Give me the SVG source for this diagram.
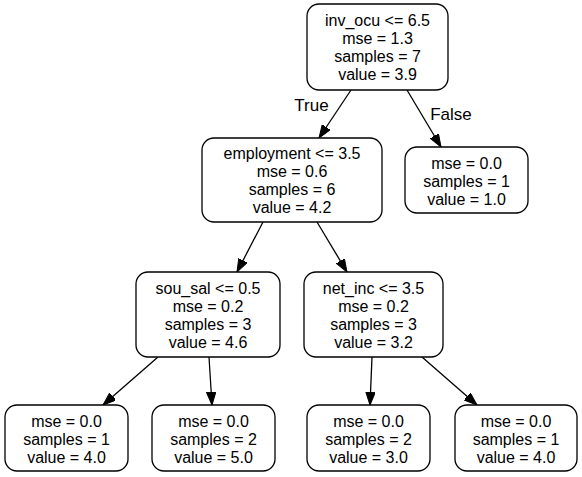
<svg xmlns="http://www.w3.org/2000/svg" width="582" height="477" viewBox="0 0 582 477">
<style>
.box{fill:#fff;stroke:#000;stroke-width:1.3}
text{font-family:"Liberation Sans",Arial,Helvetica,sans-serif;font-size:16px;fill:#000;text-anchor:middle}
.edge{stroke:#000;stroke-width:1.3;fill:none}
</style>
<defs>
<marker id="arr" markerUnits="userSpaceOnUse" markerWidth="14" markerHeight="10" refX="13" refY="4.75" orient="auto" viewBox="0 0 14 10">
<path d="M0,0 L13,4.75 L0,9.5 z" fill="#000" stroke="#000" stroke-width="1"/>
</marker>
</defs>
<rect width="582" height="477" fill="#fff"/>
<g id="connectors">
<line class="edge" x1="351" y1="90" x2="319" y2="138" marker-end="url(#arr)"/>
<line class="edge" x1="407" y1="90" x2="441" y2="147" marker-end="url(#arr)"/>
<line class="edge" x1="263" y1="222" x2="237" y2="272" marker-end="url(#arr)"/>
<line class="edge" x1="317" y1="222" x2="347" y2="272" marker-end="url(#arr)"/>
<line class="edge" x1="158" y1="357" x2="103" y2="405" marker-end="url(#arr)"/>
<line class="edge" x1="209" y1="357" x2="212" y2="405" marker-end="url(#arr)"/>
<line class="edge" x1="372" y1="357" x2="370" y2="405" marker-end="url(#arr)"/>
<line class="edge" x1="422" y1="357" x2="477" y2="405" marker-end="url(#arr)"/>
<text x="311.5" y="111" style="font-size:17px">True</text>
<text x="451" y="120" style="font-size:17px">False</text>
</g>
<g id="node0">
<rect class="box" x="307" y="4" width="141" height="86" rx="12"/>
<text x="377.5" y="25.5">inv_ocu &lt;= 6.5</text>
<text x="377.5" y="43.5">mse = 1.3</text>
<text x="377.5" y="61.5">samples = 7</text>
<text x="377.5" y="79.5">value = 3.9</text>
</g>
<g id="node1">
<rect class="box" x="202" y="138" width="180" height="84" rx="12"/>
<text x="292" y="158.5">employment &lt;= 3.5</text>
<text x="292" y="176.5">mse = 0.6</text>
<text x="292" y="194.5">samples = 6</text>
<text x="292" y="212.5">value = 4.2</text>
</g>
<g id="node2">
<rect class="box" x="405" y="147" width="123" height="66" rx="12"/>
<text x="466.5" y="168.5">mse = 0.0</text>
<text x="466.5" y="186.5">samples = 1</text>
<text x="466.5" y="204.5">value = 1.0</text>
</g>
<g id="node3">
<rect class="box" x="136" y="272" width="144" height="85" rx="12"/>
<text x="208" y="293.5">sou_sal &lt;= 0.5</text>
<text x="208" y="311.5">mse = 0.2</text>
<text x="208" y="329.5">samples = 3</text>
<text x="208" y="347.5">value = 4.6</text>
</g>
<g id="node4">
<rect class="box" x="304" y="272" width="139" height="85" rx="12"/>
<text x="373.5" y="293.5">net_inc &lt;= 3.5</text>
<text x="373.5" y="311.5">mse = 0.2</text>
<text x="373.5" y="329.5">samples = 3</text>
<text x="373.5" y="347.5">value = 3.2</text>
</g>
<g id="node5">
<rect class="box" x="5" y="405" width="123" height="66" rx="12"/>
<text x="66.5" y="426.5">mse = 0.0</text>
<text x="66.5" y="444.5">samples = 1</text>
<text x="66.5" y="462.5">value = 4.0</text>
</g>
<g id="node6">
<rect class="box" x="152" y="405" width="123" height="66" rx="12"/>
<text x="213.5" y="426.5">mse = 0.0</text>
<text x="213.5" y="444.5">samples = 2</text>
<text x="213.5" y="462.5">value = 5.0</text>
</g>
<g id="node7">
<rect class="box" x="307" y="405" width="123" height="66" rx="12"/>
<text x="368.5" y="426.5">mse = 0.0</text>
<text x="368.5" y="444.5">samples = 2</text>
<text x="368.5" y="462.5">value = 3.0</text>
</g>
<g id="node8">
<rect class="box" x="455" y="405" width="122" height="66" rx="12"/>
<text x="516" y="426.5">mse = 0.0</text>
<text x="516" y="444.5">samples = 1</text>
<text x="516" y="462.5">value = 4.0</text>
</g>
</svg>
